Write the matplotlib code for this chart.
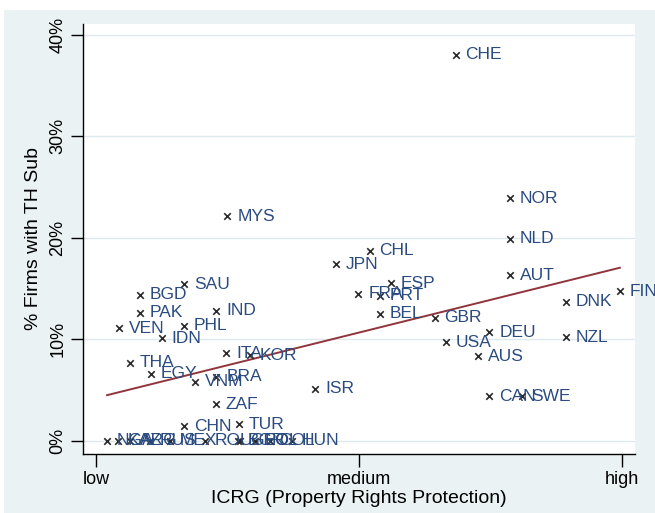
import numpy as np
import matplotlib
matplotlib.use("Agg")
import matplotlib.pyplot as plt
from matplotlib.patches import Rectangle

plt.rcParams['font.family'] = ['Liberation Sans', 'DejaVu Sans']

# ICRG score scaled 0 (low) .. 1 (high), share of firms with a tax-haven subsidiary in %
countries = ['CHE', 'NOR', 'NLD', 'MYS', 'CHL', 'JPN', 'AUT', 'ESP', 'SAU', 'FIN',
             'FRA', 'PRT', 'BGD', 'DNK', 'PAK', 'IND', 'BEL', 'GBR', 'VEN', 'PHL',
             'DEU', 'NZL', 'IDN', 'USA', 'ITA', 'KOR', 'AUS', 'THA', 'EGY', 'BRA',
             'VNM', 'ISR', 'CAN', 'SWE', 'ZAF', 'CHN', 'TUR',
             'NGA', 'KAZ', 'ARG', 'RUS', 'MEX', 'ROU', 'BGR', 'GEO', 'POL', 'COL', 'HUN']
icrg = [0.684, 0.787, 0.787, 0.250, 0.520, 0.457, 0.788, 0.560, 0.168, 0.996,
        0.499, 0.540, 0.084, 0.893, 0.084, 0.229, 0.540, 0.644, 0.044, 0.168,
        0.748, 0.893, 0.125, 0.665, 0.248, 0.293, 0.727, 0.065, 0.105, 0.229,
        0.189, 0.417, 0.748, 0.809, 0.228, 0.168, 0.272,
        0.021, 0.042, 0.065, 0.103, 0.141, 0.207, 0.270, 0.274, 0.302, 0.330, 0.372]
th_sub = [38.0, 23.9, 19.9, 22.1, 18.7, 17.4, 16.3, 15.5, 15.4, 14.7,
          14.5, 14.3, 14.4, 13.7, 12.6, 12.8, 12.5, 12.1, 11.1, 11.3,
          10.7, 10.2, 10.1, 9.7, 8.6, 8.4, 8.3, 7.7, 6.6, 6.3,
          5.8, 5.1, 4.4, 4.4, 3.6, 1.4, 1.6,
          0, 0, 0, 0, 0, 0, 0, 0, 0, 0, 0]

x_ticks = [0, 0.5, 1]
x_ticklabels = ['low', 'medium', 'high']
y_ticks = [0, 10, 20, 30, 40]

bg = '#EAF2F3'
label_col = '#2A4B80'

fig = plt.figure(figsize=(6.55, 5.13), dpi=100, facecolor='white')
fig.patches.append(Rectangle((4 / 655, 0), 1, 1 - 10 / 513, transform=fig.transFigure,
                             facecolor=bg, edgecolor='none', zorder=-10))

ax = fig.add_axes([83 / 655, 1 - 454 / 513, (635 - 83) / 655, (454 - 24) / 513])
ax.set_facecolor('white')

x = np.array(icrg)
y = np.array(th_sub)

# linear fit across the observed ICRG range
b, a = np.polyfit(x, y, 1)
xs = np.array([x.min(), x.max()])
ax.plot(xs, a + b * xs, color='#90353B', lw=1.4, zorder=2)

ax.scatter(x, y, marker='x', s=22, color='#2A2A2A', linewidths=1.2, zorder=3)
for name, xi, yi in zip(countries, x, y):
    ax.annotate(name, (xi, yi), xytext=(7, 0), textcoords='offset points',
                va='center', ha='left', fontsize=12.5, color=label_col, zorder=4)

ax.set_xlim(-0.0247, 1.0247)
ax.set_ylim(-1.31, 41.05)
ax.set_xticks(x_ticks)
ax.set_xticklabels(x_ticklabels, fontsize=13)
ax.set_yticks(y_ticks)
ax.set_yticklabels([f'{t}%' for t in y_ticks], fontsize=13, rotation=90, va='center')
ax.tick_params(axis='both', direction='out', length=9, width=1, color='black', pad=3)
ax.grid(axis='y', color='#DCEAEE', lw=1)
ax.set_axisbelow(True)

for s in ['top', 'right']:
    ax.spines[s].set_visible(False)
for s in ['left', 'bottom']:
    ax.spines[s].set_linewidth(1)
    ax.spines[s].set_color('black')

ax.set_xlabel('ICRG (Property Rights Protection)', fontsize=14, labelpad=2)
ax.set_ylabel('% Firms with TH Sub', fontsize=14, labelpad=5)

fig.savefig('out.png', dpi=100, facecolor=fig.get_facecolor())
